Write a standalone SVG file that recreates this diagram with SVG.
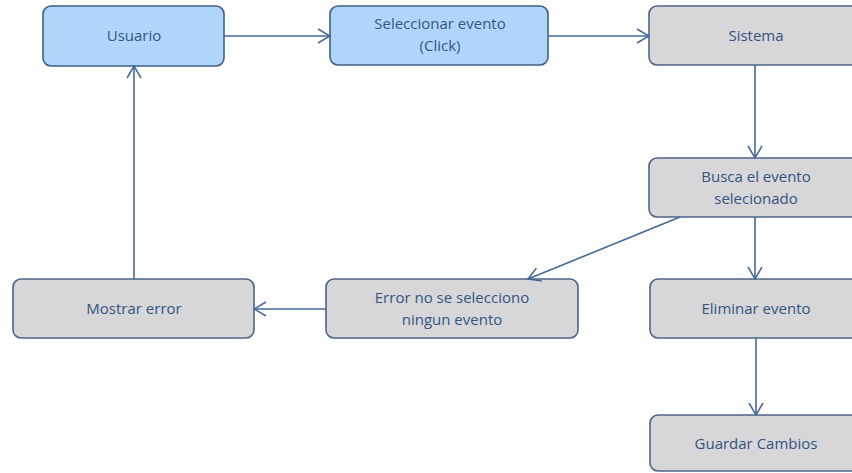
<svg xmlns="http://www.w3.org/2000/svg" width="852" height="473" viewBox="0 0 852 473">
<defs>
<marker id="open" viewBox="0 0 14 16" refX="13" refY="8" markerWidth="14" markerHeight="16" markerUnits="userSpaceOnUse" orient="auto">
<path d="M1,1 L13,8 L1,15" fill="none" stroke="#46699a" stroke-width="1.5"/>
</marker>
<style>
.blue rect{fill:#b0d5fb;stroke:#3f5f88;stroke-width:1.6}
.gray rect{fill:#d7d7d9;stroke:#4d6587;stroke-width:1.6}
text{font-family:"Open Sans","Liberation Sans",sans-serif;font-size:15px;fill:#34557f;text-anchor:middle}
.edge{fill:none;stroke:#46699a;stroke-width:1.6;marker-end:url(#open)}
</style>
</defs>
<rect width="852" height="473" fill="#ffffff"/>
<g id="n-usuario" class="blue"><rect x="43" y="6" width="181" height="60" rx="8"/><text x="134" y="41">Usuario</text></g>
<g id="n-seleccionar" class="blue"><rect x="330" y="6" width="218" height="59" rx="8"/><text x="440" y="29">Seleccionar evento</text><text x="440" y="51">(Click)</text></g>
<g id="n-sistema" class="gray"><rect x="649" y="6" width="215" height="59" rx="8"/><text x="756" y="41">Sistema</text></g>
<g id="n-busca" class="gray"><rect x="649" y="158" width="215" height="59" rx="8"/><text x="756" y="182">Busca el evento</text><text x="756" y="204">selecionado</text></g>
<g id="n-error" class="gray"><rect x="326" y="279" width="252" height="59" rx="8"/><text x="452" y="303">Error no se selecciono</text><text x="452" y="325">ningun evento</text></g>
<g id="n-mostrar" class="gray"><rect x="13" y="279" width="241" height="59" rx="8"/><text x="134" y="314">Mostrar error</text></g>
<g id="n-eliminar" class="gray"><rect x="650" y="279" width="214" height="59" rx="8"/><text x="756" y="314">Eliminar evento</text></g>
<g id="n-guardar" class="gray"><rect x="650" y="415" width="214" height="56" rx="8"/><text x="756" y="449">Guardar Cambios</text></g>
<g id="connectors">
<path class="edge" d="M224,36 L330,36"/>
<path class="edge" d="M548,36 L649,36"/>
<path class="edge" d="M755,65 L755,158"/>
<path class="edge" d="M680,217 L528,279"/>
<path class="edge" d="M755,217 L755,279"/>
<path class="edge" d="M756,338 L756,415"/>
<path class="edge" d="M326,309 L254,309"/>
<path class="edge" d="M134,279 L134,66"/>
</g>
</svg>
